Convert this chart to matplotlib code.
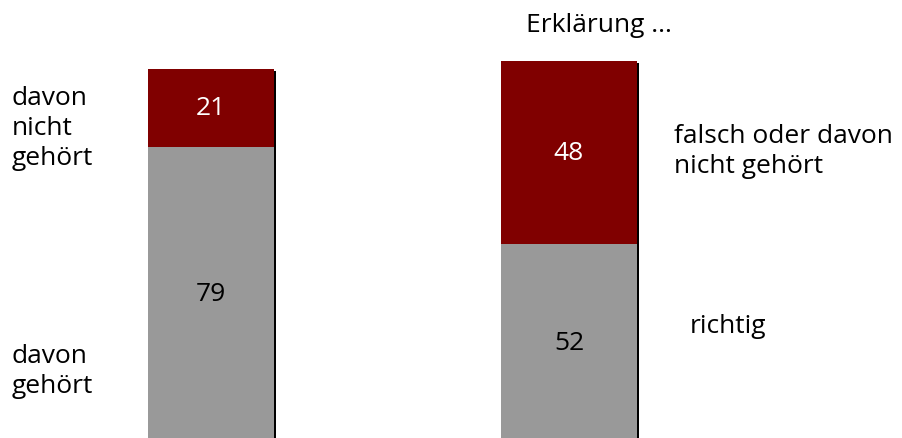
import matplotlib.pyplot as plt
import matplotlib.patheffects as pe

# values (percent)
heard = [79, 21]            # davon gehört, davon nicht gehört
explained = [52, 48]        # richtig, falsch oder davon nicht gehört
grey, red = '#999999', '#800000'

plt.rcParams['font.family'] = ['Open Sans', 'DejaVu Sans']

W, H = 903, 439
fs = 19
fig = plt.figure(figsize=(W / 100, H / 100), dpi=100)

shadow = [pe.withSimplePatchShadow(offset=(1.6, -1.6), shadow_rgbFace='black', alpha=1.0), pe.Normal()]


def stacked(left_px, top_px, width_px, bottom_px, vals):
    ax = fig.add_axes([left_px / W, 1 - bottom_px / H, width_px / W, (bottom_px - top_px) / H])
    low, high = vals
    # top segment first so the lower one covers its shadow
    b2 = ax.bar(0, high, bottom=low, width=1, color=red, clip_on=False)
    b1 = ax.bar(0, low, width=1, color=grey, clip_on=False)
    for p in list(b2) + list(b1):
        p.set_path_effects(shadow)
    ax.set_xlim(-0.5, 0.5)
    ax.set_ylim(0, 100)
    ax.axis('off')
    ax.text(0, low / 2, str(low), ha='center', va='center', fontsize=fs, color='black')
    ax.text(0, low + high / 2, str(high), ha='center', va='center', fontsize=fs, color='white')
    return ax


stacked(148, 70, 126, 441, heard)
stacked(501, 62, 136, 443, explained)


def label(x, baselines, lines):
    for y, s in zip(baselines, lines):
        fig.text(x / W, 1 - y / H, s, fontsize=fs, va='baseline', ha='left')


label(12, [105, 135, 165], ['davon', 'nicht', 'gehört'])
label(12, [363, 393], ['davon', 'gehört'])
label(526, [32], ['Erklärung ...'])
label(674, [143, 173], ['falsch oder davon', 'nicht gehört'])
label(690, [333], ['richtig'])

fig.savefig('out.png', dpi=100)
